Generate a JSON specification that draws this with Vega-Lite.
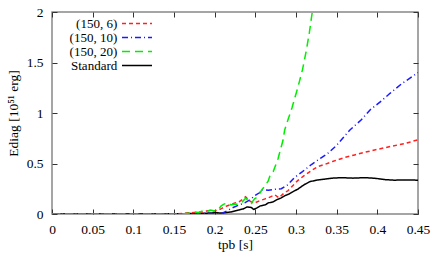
{
  "$schema": "https://vega.github.io/schema/vega-lite/v6.json",
  "width": 366,
  "height": 202,
  "autosize": {"type": "none"},
  "padding": {"left": 52, "top": 12, "right": 18, "bottom": 48},
  "background": "white",
  "config": {
    "font": "Liberation Serif",
    "view": {"stroke": "#888888", "strokeWidth": 1.5},
    "axis": {
      "labelFont": "Liberation Serif",
      "titleFont": "Liberation Serif",
      "labelFontSize": 13.5,
      "titleFontSize": 13.5,
      "titleFontWeight": "normal",
      "labelColor": "black",
      "titleColor": "black",
      "domain": false,
      "grid": false,
      "tickColor": "#333333",
      "tickSize": -5,
      "tickWidth": 1
    },
    "legend": {
      "labelFont": "Liberation Serif",
      "labelFontSize": 13,
      "labelColor": "black"
    }
  },
  "data": {
    "values": [
      {"t": 0, "E": 0, "s": "Standard"},
      {"t": 0.05, "E": 0, "s": "Standard"},
      {"t": 0.1, "E": 0, "s": "Standard"},
      {"t": 0.15, "E": 0.002, "s": "Standard"},
      {"t": 0.17, "E": 0.004, "s": "Standard"},
      {"t": 0.19, "E": 0.008, "s": "Standard"},
      {"t": 0.2, "E": 0.012, "s": "Standard"},
      {"t": 0.21, "E": 0.01, "s": "Standard"},
      {"t": 0.22, "E": 0.02, "s": "Standard"},
      {"t": 0.23, "E": 0.04, "s": "Standard"},
      {"t": 0.235, "E": 0.05, "s": "Standard"},
      {"t": 0.24, "E": 0.07, "s": "Standard"},
      {"t": 0.245, "E": 0.065, "s": "Standard"},
      {"t": 0.248, "E": 0.045, "s": "Standard"},
      {"t": 0.252, "E": 0.06, "s": "Standard"},
      {"t": 0.256, "E": 0.08, "s": "Standard"},
      {"t": 0.262, "E": 0.09, "s": "Standard"},
      {"t": 0.266, "E": 0.11, "s": "Standard"},
      {"t": 0.272, "E": 0.12, "s": "Standard"},
      {"t": 0.276, "E": 0.14, "s": "Standard"},
      {"t": 0.282, "E": 0.16, "s": "Standard"},
      {"t": 0.286, "E": 0.18, "s": "Standard"},
      {"t": 0.292, "E": 0.2, "s": "Standard"},
      {"t": 0.296, "E": 0.22, "s": "Standard"},
      {"t": 0.302, "E": 0.245, "s": "Standard"},
      {"t": 0.31, "E": 0.29, "s": "Standard"},
      {"t": 0.317, "E": 0.32, "s": "Standard"},
      {"t": 0.325, "E": 0.335, "s": "Standard"},
      {"t": 0.335, "E": 0.345, "s": "Standard"},
      {"t": 0.345, "E": 0.355, "s": "Standard"},
      {"t": 0.356, "E": 0.36, "s": "Standard"},
      {"t": 0.37, "E": 0.355, "s": "Standard"},
      {"t": 0.384, "E": 0.36, "s": "Standard"},
      {"t": 0.395, "E": 0.355, "s": "Standard"},
      {"t": 0.401, "E": 0.35, "s": "Standard"},
      {"t": 0.41, "E": 0.34, "s": "Standard"},
      {"t": 0.421, "E": 0.335, "s": "Standard"},
      {"t": 0.435, "E": 0.337, "s": "Standard"},
      {"t": 0.45, "E": 0.335, "s": "Standard"},

      {"t": 0, "E": 0, "s": "(150, 6)"},
      {"t": 0.15, "E": 0, "s": "(150, 6)"},
      {"t": 0.16, "E": 0.005, "s": "(150, 6)"},
      {"t": 0.165, "E": 0.01, "s": "(150, 6)"},
      {"t": 0.175, "E": 0.015, "s": "(150, 6)"},
      {"t": 0.185, "E": 0.02, "s": "(150, 6)"},
      {"t": 0.19, "E": 0.03, "s": "(150, 6)"},
      {"t": 0.195, "E": 0.035, "s": "(150, 6)"},
      {"t": 0.2, "E": 0.03, "s": "(150, 6)"},
      {"t": 0.205, "E": 0.04, "s": "(150, 6)"},
      {"t": 0.21, "E": 0.06, "s": "(150, 6)"},
      {"t": 0.215, "E": 0.08, "s": "(150, 6)"},
      {"t": 0.2205, "E": 0.095, "s": "(150, 6)"},
      {"t": 0.225, "E": 0.11, "s": "(150, 6)"},
      {"t": 0.23, "E": 0.12, "s": "(150, 6)"},
      {"t": 0.235, "E": 0.15, "s": "(150, 6)"},
      {"t": 0.238, "E": 0.17, "s": "(150, 6)"},
      {"t": 0.243, "E": 0.13, "s": "(150, 6)"},
      {"t": 0.248, "E": 0.105, "s": "(150, 6)"},
      {"t": 0.255, "E": 0.13, "s": "(150, 6)"},
      {"t": 0.262, "E": 0.15, "s": "(150, 6)"},
      {"t": 0.266, "E": 0.16, "s": "(150, 6)"},
      {"t": 0.27, "E": 0.175, "s": "(150, 6)"},
      {"t": 0.274, "E": 0.19, "s": "(150, 6)"},
      {"t": 0.279, "E": 0.16, "s": "(150, 6)"},
      {"t": 0.285, "E": 0.205, "s": "(150, 6)"},
      {"t": 0.29, "E": 0.23, "s": "(150, 6)"},
      {"t": 0.296, "E": 0.28, "s": "(150, 6)"},
      {"t": 0.302, "E": 0.33, "s": "(150, 6)"},
      {"t": 0.31, "E": 0.38, "s": "(150, 6)"},
      {"t": 0.319, "E": 0.43, "s": "(150, 6)"},
      {"t": 0.327, "E": 0.47, "s": "(150, 6)"},
      {"t": 0.335, "E": 0.49, "s": "(150, 6)"},
      {"t": 0.345, "E": 0.52, "s": "(150, 6)"},
      {"t": 0.36, "E": 0.56, "s": "(150, 6)"},
      {"t": 0.372, "E": 0.585, "s": "(150, 6)"},
      {"t": 0.384, "E": 0.61, "s": "(150, 6)"},
      {"t": 0.4, "E": 0.64, "s": "(150, 6)"},
      {"t": 0.417, "E": 0.67, "s": "(150, 6)"},
      {"t": 0.435, "E": 0.7, "s": "(150, 6)"},
      {"t": 0.45, "E": 0.735, "s": "(150, 6)"},

      {"t": 0, "E": 0, "s": "(150, 10)"},
      {"t": 0.17, "E": 0, "s": "(150, 10)"},
      {"t": 0.18, "E": 0.003, "s": "(150, 10)"},
      {"t": 0.19, "E": 0.005, "s": "(150, 10)"},
      {"t": 0.2, "E": 0.004, "s": "(150, 10)"},
      {"t": 0.204, "E": 0.003, "s": "(150, 10)"},
      {"t": 0.21, "E": 0.01, "s": "(150, 10)"},
      {"t": 0.215, "E": 0.03, "s": "(150, 10)"},
      {"t": 0.22, "E": 0.055, "s": "(150, 10)"},
      {"t": 0.23, "E": 0.09, "s": "(150, 10)"},
      {"t": 0.237, "E": 0.11, "s": "(150, 10)"},
      {"t": 0.245, "E": 0.15, "s": "(150, 10)"},
      {"t": 0.249, "E": 0.18, "s": "(150, 10)"},
      {"t": 0.255, "E": 0.21, "s": "(150, 10)"},
      {"t": 0.258, "E": 0.24, "s": "(150, 10)"},
      {"t": 0.266, "E": 0.235, "s": "(150, 10)"},
      {"t": 0.275, "E": 0.245, "s": "(150, 10)"},
      {"t": 0.282, "E": 0.25, "s": "(150, 10)"},
      {"t": 0.29, "E": 0.29, "s": "(150, 10)"},
      {"t": 0.298, "E": 0.36, "s": "(150, 10)"},
      {"t": 0.308, "E": 0.42, "s": "(150, 10)"},
      {"t": 0.319, "E": 0.49, "s": "(150, 10)"},
      {"t": 0.33, "E": 0.55, "s": "(150, 10)"},
      {"t": 0.339, "E": 0.6, "s": "(150, 10)"},
      {"t": 0.35, "E": 0.68, "s": "(150, 10)"},
      {"t": 0.366, "E": 0.83, "s": "(150, 10)"},
      {"t": 0.38, "E": 0.93, "s": "(150, 10)"},
      {"t": 0.391, "E": 1.03, "s": "(150, 10)"},
      {"t": 0.405, "E": 1.12, "s": "(150, 10)"},
      {"t": 0.4156, "E": 1.195, "s": "(150, 10)"},
      {"t": 0.43, "E": 1.29, "s": "(150, 10)"},
      {"t": 0.45, "E": 1.4, "s": "(150, 10)"},

      {"t": 0, "E": 0, "s": "(150, 20)"},
      {"t": 0.16, "E": 0, "s": "(150, 20)"},
      {"t": 0.17, "E": 0.01, "s": "(150, 20)"},
      {"t": 0.175, "E": 0.02, "s": "(150, 20)"},
      {"t": 0.18, "E": 0.015, "s": "(150, 20)"},
      {"t": 0.185, "E": 0.03, "s": "(150, 20)"},
      {"t": 0.19, "E": 0.025, "s": "(150, 20)"},
      {"t": 0.195, "E": 0.04, "s": "(150, 20)"},
      {"t": 0.2, "E": 0.03, "s": "(150, 20)"},
      {"t": 0.204, "E": 0.04, "s": "(150, 20)"},
      {"t": 0.208, "E": 0.08, "s": "(150, 20)"},
      {"t": 0.212, "E": 0.1, "s": "(150, 20)"},
      {"t": 0.216, "E": 0.11, "s": "(150, 20)"},
      {"t": 0.22, "E": 0.09, "s": "(150, 20)"},
      {"t": 0.225, "E": 0.1, "s": "(150, 20)"},
      {"t": 0.23, "E": 0.095, "s": "(150, 20)"},
      {"t": 0.234, "E": 0.12, "s": "(150, 20)"},
      {"t": 0.238, "E": 0.155, "s": "(150, 20)"},
      {"t": 0.242, "E": 0.13, "s": "(150, 20)"},
      {"t": 0.245, "E": 0.105, "s": "(150, 20)"},
      {"t": 0.249, "E": 0.15, "s": "(150, 20)"},
      {"t": 0.253, "E": 0.17, "s": "(150, 20)"},
      {"t": 0.258, "E": 0.24, "s": "(150, 20)"},
      {"t": 0.262, "E": 0.28, "s": "(150, 20)"},
      {"t": 0.266, "E": 0.33, "s": "(150, 20)"},
      {"t": 0.268, "E": 0.38, "s": "(150, 20)"},
      {"t": 0.272, "E": 0.42, "s": "(150, 20)"},
      {"t": 0.278, "E": 0.55, "s": "(150, 20)"},
      {"t": 0.284, "E": 0.73, "s": "(150, 20)"},
      {"t": 0.286, "E": 0.83, "s": "(150, 20)"},
      {"t": 0.29, "E": 0.93, "s": "(150, 20)"},
      {"t": 0.295, "E": 1.05, "s": "(150, 20)"},
      {"t": 0.3025, "E": 1.26, "s": "(150, 20)"},
      {"t": 0.308, "E": 1.43, "s": "(150, 20)"},
      {"t": 0.3127, "E": 1.62, "s": "(150, 20)"},
      {"t": 0.3165, "E": 1.8, "s": "(150, 20)"},
      {"t": 0.32, "E": 2.0, "s": "(150, 20)"}
    ]
  },
  "layer": [
    {
      "mark": {"type": "line", "strokeWidth": 1.5, "clip": true},
      "encoding": {
        "x": {
          "field": "t", "type": "quantitative",
          "scale": {"domain": [0, 0.45], "nice": false},
          "axis": {"orient": "bottom", "values": [0, 0.05, 0.1, 0.15, 0.2, 0.25, 0.3, 0.35, 0.4, 0.45], "format": "~g", "title": "tpb [s]", "labelPadding": 13, "titleY": 34, "titleBaseline": "alphabetic", "labelFlush": false}
        },
        "y": {
          "field": "E", "type": "quantitative",
          "scale": {"domain": [0, 2], "nice": false},
          "axis": {"orient": "left", "values": [0, 0.5, 1, 1.5, 2], "format": "~g", "title": "Ediag [10⁵¹ erg]", "labelPadding": 14, "titleX": -32, "labelFlush": false}
        },
        "color": {
          "field": "s", "type": "nominal",
          "scale": {"domain": ["(150, 6)", "(150, 10)", "(150, 20)", "Standard"], "range": ["#ff2020", "#1a1aff", "#00ee00", "#000000"]},
          "legend": {"title": null, "orient": "none", "legendX": 78, "legendY": 4.5, "symbolType": "M-2.5,0H2.5", "symbolSize": 144, "symbolStrokeWidth": 1.5, "symbolFillColor": "transparent", "labelAlign": "right", "labelOffset": -26.75, "rowPadding": 0, "padding": 0, "labelFont": "Liberation Serif"}
        },
        "strokeDash": {
          "field": "s", "type": "nominal",
          "scale": {"domain": ["(150, 6)", "(150, 10)", "(150, 20)", "Standard"], "range": [[4, 3], [6, 3, 1, 3], [8, 5], [1, 0]]},
          "legend": {"title": null, "orient": "none", "legendX": 78, "legendY": 4.5, "symbolType": "M-2.5,0H2.5", "symbolSize": 144, "symbolStrokeWidth": 1.5, "symbolFillColor": "transparent", "labelAlign": "right", "labelOffset": -26.75, "rowPadding": 0, "padding": 0, "labelFont": "Liberation Serif"}
        },
        "detail": {"field": "s", "type": "nominal"}
      }
    },
    {
      "mark": {"type": "point", "opacity": 0},
      "encoding": {
        "x": {"field": "t", "type": "quantitative", "axis": {"orient": "top", "values": [0, 0.05, 0.1, 0.15, 0.2, 0.25, 0.3, 0.35, 0.4, 0.45], "labels": false, "title": null}},
        "y": {"field": "E", "type": "quantitative", "axis": {"orient": "right", "values": [0, 0.5, 1, 1.5, 2], "labels": false, "title": null}}
      }
    }
  ],
  "resolve": {"axis": {"x": "independent", "y": "independent"}}
}
